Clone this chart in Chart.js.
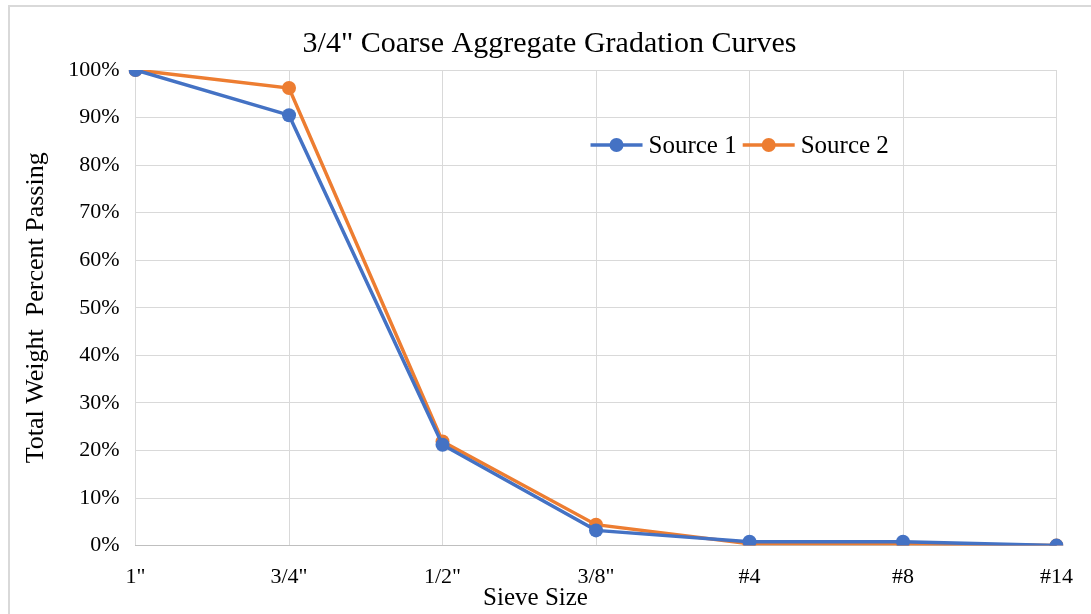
<!DOCTYPE html>
<html>
<head>
<meta charset="utf-8">
<script src="https://cdn.jsdelivr.net/npm/chart.js@4"></script>
<style>
    body { margin: 0; background: #fff; overflow: hidden; }
    .frame {
        position: absolute; left: 8px; top: 5px;
        width: 1083px; height: 609px;
        border-left: 2px solid #d9d9d9; border-top: 2px solid #d9d9d9;
        box-sizing: border-box;
    }
</style>
</head>
<body>
<div class="frame"><canvas id="gradationChart"></canvas></div>
<script>
// --- Chart data ---
const sieveSizes = ['1"', '3/4"', '1/2"', '3/8"', '#4', '#8', '#14'];
const source1 = [100, 90.5, 21.2, 3.2, 0.8, 0.8, 0];
const source2 = [100, 96.2, 21.9, 4.4, 0.4, 0.4, 0];
const seriesNames = ['Source 1', 'Source 2'];

const BLUE = '#4472C4';
const ORANGE = '#ED7D31';
const FONT = '"Liberation Serif", "Times New Roman", serif';

// --- Legend drawn inside the plot area ---
const innerLegend = {
    id: 'innerLegend',
    afterDraw(chart) {
        const ctx = chart.ctx;
        const area = chart.chartArea;
        let x = area.left + 455;
        const y = area.top + 75;
        ctx.save();
        ctx.font = '25px ' + FONT;
        ctx.textBaseline = 'middle';
        chart.data.datasets.forEach(ds => {
            ctx.strokeStyle = ds.borderColor;
            ctx.lineWidth = 3.5;
            ctx.beginPath();
            ctx.moveTo(x, y);
            ctx.lineTo(x + 52, y);
            ctx.stroke();
            ctx.fillStyle = ds.borderColor;
            ctx.beginPath();
            ctx.arc(x + 26, y, 7, 0, Math.PI * 2);
            ctx.fill();
            ctx.fillStyle = '#000';
            ctx.fillText(ds.label, x + 58, y + 1);
            x += 58 + ctx.measureText(ds.label).width + 6;
        });
        ctx.restore();
    }
};

// --- X axis title, sits a little left of centre like the original ---
const xAxisTitle = {
    id: 'xAxisTitle',
    afterDraw(chart) {
        const ctx = chart.ctx;
        const area = chart.chartArea;
        ctx.save();
        ctx.font = '25px ' + FONT;
        ctx.fillStyle = '#000';
        ctx.textAlign = 'center';
        ctx.textBaseline = 'middle';
        ctx.fillText('Sieve Size', area.left + 400, area.bottom + 53);
        ctx.restore();
    }
};

new Chart(document.getElementById('gradationChart'), {
    type: 'line',
    data: {
        labels: sieveSizes,
        datasets: [
            { label: seriesNames[0], data: source1, borderColor: BLUE, backgroundColor: BLUE },
            { label: seriesNames[1], data: source2, borderColor: ORANGE, backgroundColor: ORANGE }
        ]
    },
    options: {
        responsive: true,
        maintainAspectRatio: false,
        animation: false,
        layout: { padding: { left: 2, right: 4, top: 1, bottom: 6 } },
        elements: {
            line: { borderWidth: 3.5, tension: 0 },
            point: { radius: 7, borderWidth: 0, hoverRadius: 7 }
        },
        plugins: {
            legend: { display: false },
            tooltip: { enabled: false },
            title: {
                display: true,
                text: '3/4" Coarse Aggregate Gradation Curves',
                color: '#000',
                font: { family: FONT, size: 30, weight: 'normal' },
                padding: { top: 18, bottom: 8 }
            }
        },
        scales: {
            x: {
                offset: false,
                grid: { color: '#d9d9d9', drawTicks: false },
                border: { color: '#bfbfbf' },
                ticks: { color: '#000', padding: 18, font: { family: FONT, size: 22 } }
            },
            y: {
                min: 0, max: 100,
                grid: { color: '#d9d9d9', drawTicks: false },
                border: { display: false },
                ticks: {
                    stepSize: 10, color: '#000', padding: 16,
                    font: { family: FONT, size: 22 },
                    callback: v => v + '%'
                },
                title: {
                    display: true, text: 'Total Weight  Percent Passing', color: '#000',
                    font: { family: FONT, size: 26 }, padding: { top: 9, bottom: 0 }
                }
            }
        }
    },
    plugins: [innerLegend, xAxisTitle]
});
</script>
</body>
</html>
